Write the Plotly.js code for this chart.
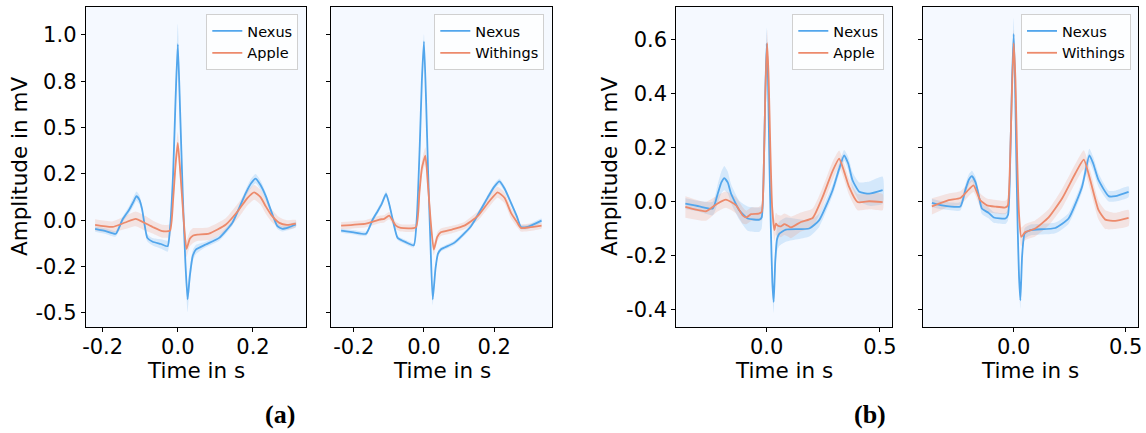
<!DOCTYPE html>
<html>
<head>
<meta charset="utf-8">
<script src="https://cdn.plot.ly/plotly-3.0.1.min.js"></script>
<style>html,body{margin:0;padding:0;background:#fff;}#chart{width:1146px;height:433px;}</style>
</head>
<body>
<div id="chart"></div>
<script>
// ---- DATA: each point is [time in s, mean amplitude in mV, spread (band half-width) in mV] ----
const a1Nexus = [[-0.22,-0.047,.015],[-0.19,-0.06,.015],[-0.165,-0.073,.015],[-0.147,0.004,.015],[-0.129,0.058,.02],[-0.118,0.10,.025],[-0.110,0.13,.025],[-0.102,0.11,.025],[-0.095,0.06,.02],[-0.081,-0.095,.02],[-0.067,-0.116,.02],[-0.045,-0.128,.025],[-0.027,-0.14,.03],[-0.021,-0.05,.03],[-0.0125,0.25,.05],[-0.006,0.65,.08],[0,0.95,.11],[0.006,0.60,.08],[0.013,0.15,.05],[0.020,-0.22,.05],[0.026,-0.427,.07],[0.032,-0.30,.05],[0.040,-0.19,.03],[0.048,-0.158,.025],[0.074,-0.131,.015],[0.11,-0.095,.015],[0.145,-0.014,.015],[0.181,0.148,.02],[0.195,0.20,.025],[0.207,0.225,.025],[0.220,0.19,.025],[0.234,0.13,.02],[0.250,0.04,.015],[0.265,-0.032,.015],[0.278,-0.046,.015],[0.295,-0.038,.015],[0.314,-0.023,.015]];
const a1Apple = [[-0.22,-0.025,.03],[-0.174,-0.036,.03],[-0.14,-0.012,.035],[-0.112,0.008,.04],[-0.09,-0.012,.04],[-0.067,-0.036,.035],[-0.041,-0.059,.035],[-0.021,-0.056,.035],[-0.0125,0.11,.04],[-0.006,0.30,.05],[0,0.417,.06],[0.007,0.25,.05],[0.015,0.02,.04],[0.023,-0.154,.045],[0.032,-0.10,.04],[0.041,-0.082,.04],[0.052,-0.077,.035],[0.083,-0.072,.035],[0.128,-0.023,.035],[0.163,0.058,.04],[0.185,0.12,.04],[0.203,0.151,.04],[0.22,0.125,.04],[0.234,0.075,.04],[0.25,0.025,.035],[0.27,-0.014,.03],[0.29,-0.025,.025],[0.314,-0.018,.02]];
const a2Nexus = [[-0.236,-0.056,.012],[-0.20,-0.065,.012],[-0.165,-0.073,.012],[-0.146,0.004,.012],[-0.132,0.049,.015],[-0.120,0.09,.015],[-0.108,0.142,.015],[-0.098,0.08,.015],[-0.089,0.004,.012],[-0.075,-0.095,.012],[-0.05,-0.12,.012],[-0.029,-0.135,.012],[-0.020,0.022,.015],[-0.012,0.4,.025],[-0.006,0.75,.035],[0,0.965,.04],[0.006,0.65,.035],[0.012,0.25,.02],[0.019,-0.15,.02],[0.025,-0.427,.03],[0.033,-0.26,.02],[0.040,-0.18,.015],[0.048,-0.158,.012],[0.086,-0.122,.012],[0.134,-0.032,.012],[0.181,0.121,.015],[0.200,0.18,.015],[0.215,0.21,.015],[0.230,0.17,.015],[0.248,0.094,.015],[0.265,0.02,.012],[0.276,-0.036,.012],[0.295,-0.036,.012],[0.335,-0.002,.012]];
const a2Withings = [[-0.236,-0.029,.02],[-0.165,-0.018,.02],[-0.127,0.004,.02],[-0.113,0.008,.02],[-0.099,0.025,.02],[-0.08,-0.029,.02],[-0.066,-0.041,.02],[-0.023,-0.038,.02],[-0.013,0.148,.03],[-0.006,0.28,.04],[0.004,0.349,.045],[0.011,0.20,.04],[0.019,0.0,.03],[0.028,-0.158,.03],[0.038,-0.09,.025],[0.048,-0.065,.02],[0.08,-0.05,.02],[0.115,-0.029,.02],[0.153,0.022,.025],[0.185,0.10,.03],[0.21,0.151,.03],[0.23,0.12,.03],[0.248,0.04,.03],[0.265,-0.01,.025],[0.276,-0.041,.02],[0.30,-0.038,.02],[0.335,-0.029,.015]];
const b1Nexus = [[-0.359,-0.009,.02],[-0.297,-0.019,.02],[-0.238,-0.027,.025],[-0.216,0.028,.035],[-0.2,0.07,.04],[-0.187,0.086,.045],[-0.172,0.07,.04],[-0.157,0.028,.035],[-0.121,-0.033,.035],[-0.084,-0.064,.045],[-0.032,-0.068,.045],[-0.022,-0.06,.04],[-0.012,0.15,.05],[-0.006,0.4,.06],[0,0.584,.06],[0.006,0.45,.06],[0.012,0.15,.05],[0.019,-0.12,.04],[0.025,-0.3,.04],[0.031,-0.373,.04],[0.038,-0.22,.045],[0.046,-0.14,.045],[0.056,-0.12,.045],[0.085,-0.105,.045],[0.188,-0.101,.03],[0.232,-0.07,.025],[0.291,0.041,.02],[0.32,0.12,.02],[0.342,0.17,.02],[0.36,0.14,.025],[0.379,0.078,.03],[0.409,0.035,.035],[0.453,0.028,.045],[0.512,0.041,.05]];
const b1Apple = [[-0.359,-0.021,.04],[-0.268,-0.037,.035],[-0.22,-0.01,.03],[-0.18,0.006,.03],[-0.135,-0.015,.03],[-0.106,-0.052,.03],[-0.09,-0.06,.025],[-0.069,-0.048,.025],[-0.035,-0.046,.025],[-0.022,-0.04,.03],[-0.012,0.15,.04],[-0.006,0.4,.05],[0.002,0.586,.05],[0.009,0.45,.05],[0.016,0.2,.04],[0.024,-0.02,.04],[0.034,-0.107,.04],[0.041,-0.083,.04],[0.048,-0.09,.04],[0.063,-0.093,.04],[0.078,-0.085,.04],[0.092,-0.09,.04],[0.107,-0.097,.04],[0.151,-0.077,.035],[0.203,-0.062,.035],[0.247,0.016,.035],[0.29,0.11,.035],[0.32,0.158,.03],[0.342,0.11,.03],[0.364,0.053,.03],[0.401,-0.003,.03],[0.453,0.0,.03],[0.512,-0.003,.03]];
const b2Nexus = [[-0.365,-0.006,.015],[-0.32,-0.015,.015],[-0.238,-0.019,.015],[-0.216,0.041,.02],[-0.2,0.08,.02],[-0.186,0.093,.02],[-0.17,0.07,.02],[-0.156,0.022,.02],[-0.142,-0.027,.02],[-0.112,-0.043,.02],[-0.089,-0.06,.02],[-0.037,-0.064,.02],[-0.025,-0.05,.02],[-0.014,0.2,.04],[-0.007,0.45,.05],[0,0.62,.06],[0.006,0.45,.05],[0.012,0.15,.04],[0.018,-0.1,.03],[0.024,-0.28,.03],[0.030,-0.367,.03],[0.038,-0.2,.025],[0.049,-0.12,.02],[0.074,-0.107,.02],[0.186,-0.099,.02],[0.245,-0.064,.02],[0.305,0.053,.02],[0.338,0.17,.025],[0.355,0.14,.025],[0.379,0.078,.025],[0.424,0.019,.02],[0.454,0.019,.02],[0.513,0.035,.02]];
const b2Withings = [[-0.365,-0.019,.03],[-0.29,0.004,.025],[-0.238,0.012,.025],[-0.208,0.037,.025],[-0.179,0.059,.025],[-0.149,0.004,.025],[-0.119,-0.015,.025],[-0.08,-0.02,.025],[-0.037,-0.023,.025],[-0.026,-0.015,.025],[-0.016,0.15,.04],[-0.008,0.4,.05],[0,0.586,.05],[0.008,0.45,.05],[0.016,0.15,.04],[0.024,-0.05,.035],[0.034,-0.132,.035],[0.052,-0.114,.03],[0.096,-0.101,.03],[0.156,-0.06,.03],[0.216,0.01,.035],[0.275,0.103,.035],[0.313,0.154,.035],[0.342,0.078,.035],[0.379,-0.033,.035],[0.409,-0.068,.035],[0.454,-0.073,.03],[0.513,-0.062,.03]];

const panelSeries = [[a1Nexus, a1Apple], [a2Nexus, a2Withings], [b1Nexus, b1Apple], [b2Nexus, b2Withings]];
const seriesNames = [["Nexus", "Apple"], ["Nexus", "Withings"], ["Nexus", "Apple"], ["Nexus", "Withings"]];

const tickValsA = [-0.5, -0.25, 0, 0.25, 0.5, 0.75, 1.0];
const tickTextA = ["-0.5", "-0.2", "0.0", "0.2", "0.5", "0.8", "1.0"];
const tickValsB = [-0.4, -0.2, 0, 0.2, 0.4, 0.6];
const tickTextB = ["-0.4", "-0.2", "0.0", "0.2", "0.4", "0.6"];
const xTickValsA = [-0.2, 0, 0.2];
const xTickTextA = ["-0.2", "0.0", "0.2"];
const xTickValsB = [0, 0.5];
const xTickTextB = ["0.0", "0.5"];
const xTitle = "Time in s";
const yTitle = "Amplitude in mV";
const panelLabels = ["(a)", "(b)"];

// ---- LAYOUT / STYLE ----
const W = 1146, H = 433;
const PX = x => x / W, PY = y => 1 - y / H;
const lineColors = ["#52a6ec", "#ec8a6c"];
const bandColors = ["rgba(82,166,236,0.2)", "rgba(236,138,108,0.2)"];
const boxes = [
  {l: 85.7, r: 306.0, xr: [-0.245, 0.341], yr: [-0.576, 1.151], xt: [xTickValsA, xTickTextA], yt: [tickValsA, tickTextA], yl: true, legR: 298.3},
  {l: 331.3, r: 551.7, xr: [-0.264, 0.364], yr: [-0.576, 1.151], xt: [xTickValsA, xTickTextA], yt: [tickValsA, tickTextA], yl: false, legR: 544.3},
  {l: 676.3, r: 891.7, xr: [-0.399, 0.552], yr: [-0.466, 0.72], xt: [xTickValsB, xTickTextB], yt: [tickValsB, tickTextB], yl: true, legR: 884.3},
  {l: 922.7, r: 1138.0, xr: [-0.406, 0.555], yr: [-0.466, 0.72], xt: [xTickValsB, xTickTextB], yt: [tickValsB, tickTextB], yl: false, legR: 1131.0}
];
const TOP = 7, BOT = 327;
const tickFont = {family: "DejaVu Sans", size: 21, color: "#000"};
const common = {showline: true, linecolor: "#000", linewidth: 1, mirror: true, ticks: "outside", ticklen: 4, tickwidth: 1, tickcolor: "#000", showgrid: false, zeroline: false, tickfont: tickFont, fixedrange: true};

const traces = [];
const layout = {
  width: W, height: H, margin: {l: 0, r: 0, t: 0, b: 0},
  paper_bgcolor: "#fff", plot_bgcolor: "#f5f9ff",
  showlegend: true, annotations: []
};

boxes.forEach((b, i) => {
  const s = i === 0 ? "" : String(i + 1);
  const xa = "x" + s, ya = "y" + s;
  layout["xaxis" + s] = Object.assign({}, common, {domain: [PX(b.l), PX(b.r)], range: b.xr, anchor: ya, tickmode: "array", tickvals: b.xt[0], ticktext: b.xt[1], ticklabelstandoff: -3});
  layout["yaxis" + s] = Object.assign({}, common, {domain: [PY(BOT), PY(TOP)], range: b.yr, anchor: xa, tickmode: "array", tickvals: b.yt[0], ticktext: b.yt[1], showticklabels: b.yl, ticklabelstandoff: 0});
  const legName = "legend" + s;
  layout[legName] = {x: PX(b.legR), y: PY(14), xanchor: "right", yanchor: "top", bgcolor: "rgba(255,255,255,0.8)", bordercolor: "#d0d0d0", borderwidth: 1, font: {family: "DejaVu Sans", size: 14.5, color: "#000"}, itemwidth: 30, tracegroupgap: 0};
  const series = panelSeries[i];
  series.forEach((d, k) => {
    const t = d.map(p => p[0]);
    const up = d.map(p => p[1] + p[2]);
    const lo = d.map(p => p[1] - p[2]);
    traces.push({x: t.concat(t.slice().reverse()), y: up.concat(lo.slice().reverse()), xaxis: xa, yaxis: ya, mode: "lines", fill: "toself", fillcolor: bandColors[k], line: {width: 0, color: "rgba(0,0,0,0)", shape: "spline", smoothing: 0.5}, hoverinfo: "skip", showlegend: false});
  });
  series.forEach((d, k) => {
    traces.push({x: d.map(p => p[0]), y: d.map(p => p[1]), xaxis: xa, yaxis: ya, mode: "lines", name: seriesNames[i][k], line: {color: lineColors[k], width: 1.8, shape: "spline", smoothing: 0.5}, legend: legName});
  });
  layout.annotations.push({text: xTitle, xref: "paper", yref: "paper", x: PX((b.l + b.r) / 2), y: PY(370), xanchor: "center", yanchor: "middle", showarrow: false, font: {family: "DejaVu Sans", size: 21.5, color: "#000"}});
});

layout.annotations.push({text: yTitle, xref: "paper", yref: "paper", x: PX(19), y: PY(167), xanchor: "center", yanchor: "middle", textangle: -90, showarrow: false, font: {family: "DejaVu Sans", size: 21.5, color: "#000"}});
layout.annotations.push({text: yTitle, xref: "paper", yref: "paper", x: PX(609), y: PY(167), xanchor: "center", yanchor: "middle", textangle: -90, showarrow: false, font: {family: "DejaVu Sans", size: 21.5, color: "#000"}});
layout.annotations.push({text: "<b>" + panelLabels[0] + "</b>", xref: "paper", yref: "paper", x: PX(280), y: PY(414), xanchor: "center", yanchor: "middle", showarrow: false, font: {family: "Liberation Serif", size: 26, color: "#000"}});
layout.annotations.push({text: "<b>" + panelLabels[1] + "</b>", xref: "paper", yref: "paper", x: PX(870), y: PY(414), xanchor: "center", yanchor: "middle", showarrow: false, font: {family: "Liberation Serif", size: 26, color: "#000"}});

Plotly.newPlot("chart", traces, layout, {staticPlot: true, displayModeBar: false});
</script>
</body>
</html>
